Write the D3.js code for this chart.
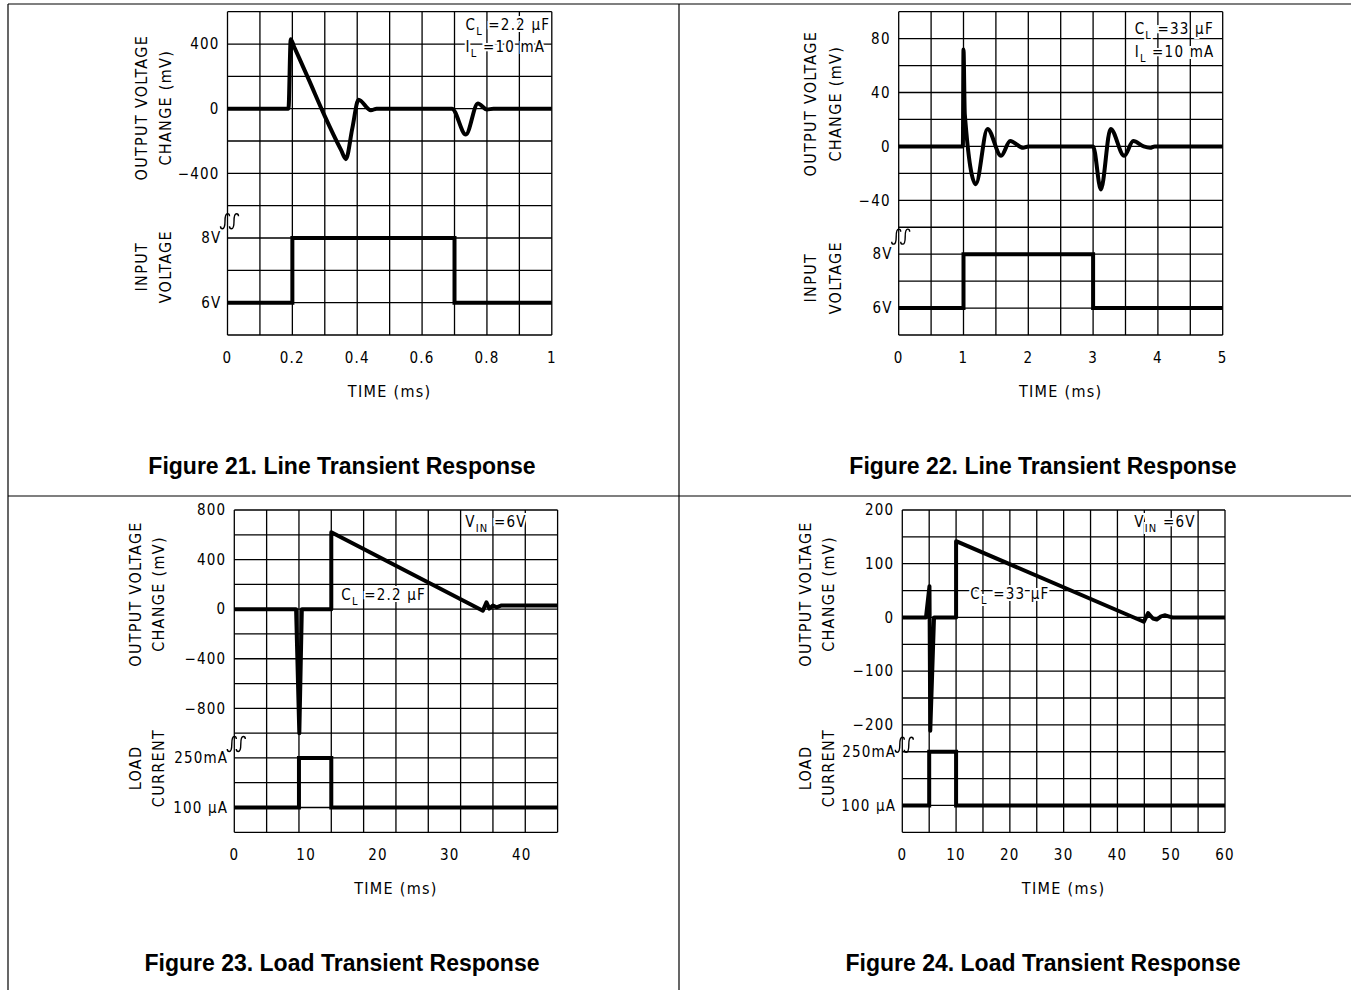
<!DOCTYPE html>
<html lang="en">
<head>
<meta charset="utf-8">
<title>line and load transient response</title>
<script src="https://d3js.org/d3.v7.min.js"></script>
<style>
body{margin:0;background:#fff;}
.lbl{font-family:"Liberation Sans Narrow","DejaVu Sans Condensed",sans-serif;font-size:15px;fill:#000;letter-spacing:1.2px;}
.ttl{font-family:"Liberation Sans Narrow","DejaVu Sans Condensed",sans-serif;font-size:16px;fill:#000;letter-spacing:1.3px;}
.cap{font-family:"Liberation Sans",Arial,sans-serif;font-weight:bold;font-size:23px;fill:#000;}
</style>
</head>
<body>
<div id="chart"></div>
<script>
// values

// Figure 21: line transient, CL = 2.2uF
var f21Time   = [0, 0.188, 0.195, 0.205, 0.25, 0.30, 0.35, 0.365, 0.385, 0.404, 0.442, 0.46, 0.692, 0.735, 0.772, 0.80, 0.82, 1]
var f21Vout   = [0, 0, 430, 385, 183, -46, -255, -312, -120, 55, -10, 0, 0, -160, 32, -5, 0, 0]
var f21InTime = [0, 0.2, 0.2, 0.7, 0.7, 1]
var f21InVolt = [6, 6, 8, 8, 6, 6]
var f21XTicks = [0, 0.2, 0.4, 0.6, 0.8, 1]
var f21VTicks = [400, 0, -400]
var f21InTicks = [8, 6]
var f21InLabels = ["8V", "6V"]

// Figure 22: line transient, CL = 33uF
var f22Time   = [0, 0.99, 1.0, 1.02, 1.19, 1.37, 1.58, 1.72, 1.92, 2.0, 3.0, 3.12, 3.27, 3.48, 3.62, 3.78, 3.88, 3.95, 5]
var f22Vout   = [0, 0, 72, 24, -28, 13, -7, 4, -1, 0, 0, -32, 13, -7, 4, 0, -1, 0, 0]
var f22InTime = [0, 1, 1, 3, 3, 5]
var f22InVolt = [6, 6, 8, 8, 6, 6]
var f22XTicks = [0, 1, 2, 3, 4, 5]
var f22VTicks = [80, 40, 0, -40]
var f22InTicks = [8, 6]
var f22InLabels = ["8V", "6V"]

// Figure 23: load transient, CL = 2.2uF (load: 0 = 100uA, 1 = 250mA)
var f23Time     = [0, 8.6, 9.05, 9.4, 13.5, 13.5, 34.6, 35.1, 35.5, 36.0, 36.5, 37.2, 45]
var f23Vout     = [0, 0, -1000, 0, 0, 620, -12, 55, 5, 30, 15, 30, 30]
var f23LoadTime = [0, 9, 9, 13.5, 13.5, 45]
var f23Load     = [0, 0, 1, 1, 0, 0]
var f23XTicks = [0, 10, 20, 30, 40]
var f23VTicks = [800, 400, 0, -400, -800]
var f23LoadTicks = [1, 0]
var f23LoadLabels = ["250mA", "100 \u00b5A"]

// Figure 24: load transient, CL = 33uF
var f24Time     = [0, 4.4, 5.05, 5.2, 5.9, 10, 10, 44.9, 45.7, 46.6, 47.3, 48.1, 48.9, 49.8, 50.3, 60]
var f24Vout     = [0, 0, 58, -211, 0, 0, 142, -8, 8, -2, -4, 2, 4, 1, 0, 0]
var f24LoadTime = [0, 5, 5, 10, 10, 60]
var f24Load     = [0, 0, 1, 1, 0, 0]
var f24XTicks = [0, 10, 20, 30, 40, 50, 60]
var f24VTicks = [200, 100, 0, -100, -200]
var f24LoadTicks = [1, 0]
var f24LoadLabels = ["250mA", "100 \u00b5A"]

var W = 1351, H = 990
var svg = d3.select("#chart").append("svg").attr("width", W).attr("height", H)

// page frame lines
var frame = [[8, 4, W, 4], [8, 4, 8, H], [679, 4, 679, H], [8, 496, W, 496]]
svg.selectAll("line.frame").data(frame).enter().append("line")
    .attr("x1", function(d){ return d[0] }).attr("y1", function(d){ return d[1] })
    .attr("x2", function(d){ return d[2] }).attr("y2", function(d){ return d[3] })
    .attr("stroke", "#000").attr("stroke-width", 1.2)

var panels = [
    {left:227.5, top:11.7, w:324.3, h:323.3, cols:10, rows:10, xMax:1,
     time:f21Time, vout:f21Vout, vCurve:d3.curveMonotoneX, vDomain:[600, -600], vRows:6, vTicks:f21VTicks,
     lTime:f21InTime, lVal:f21InVolt, lDomain:[9, 5], lRows:[6, 10], lTicks:f21InTicks, lLabels:f21InLabels,
     xTicks:f21XTicks, breakRow:6.48,
     titles:[["OUTPUT VOLTAGE", "CHANGE (mV)"], ["INPUT", "VOLTAGE"]], titleY:[96, 255], titleX:[-86.5, -62.5],
     notes:[{dx:238, dy:18, parts:[["C",0],["L",1],[" =2.2 \u00b5F",0]]}, {dx:238, dy:40, parts:[["I",0],["L",1],[" =10 mA",0]]}],
     caption:"Figure 21. Line Transient Response", capX:342, capY:474},
    {left:898.7, top:11.7, w:324, h:323.3, cols:10, rows:12, xMax:5,
     time:f22Time, vout:f22Vout, vCurve:d3.curveMonotoneX, vDomain:[100, -60], vRows:8, vTicks:f22VTicks,
     lTime:f22InTime, lVal:f22InVolt, lDomain:[9, 5], lRows:[8, 12], lTicks:f22InTicks, lLabels:f22InLabels,
     xTicks:f22XTicks, breakRow:8.35,
     titles:[["OUTPUT VOLTAGE", "CHANGE (mV)"], ["INPUT", "VOLTAGE"]], titleY:[92, 266], titleX:[-88, -63.7],
     notes:[{dx:236, dy:22, parts:[["C",0],["L",1],[" =33 \u00b5F",0]]}, {dx:236, dy:45, parts:[["I",0],["L",1],[" =10 mA",0]]}],
     caption:"Figure 22. Line Transient Response", capX:1043, capY:474},
    {left:234.3, top:510, w:323.3, h:322.3, cols:10, rows:13, xMax:45,
     time:f23Time, vout:f23Vout, vCurve:d3.curveLinear, vDomain:[800, -1000], vRows:9, vTicks:f23VTicks,
     lTime:f23LoadTime, lVal:f23Load, lDomain:[1, 0], lRows:[10, 12], lTicks:f23LoadTicks, lLabels:f23LoadLabels,
     xTicks:f23XTicks, breakRow:9.44,
     titles:[["OUTPUT VOLTAGE", "CHANGE (mV)"], ["LOAD", "CURRENT"]], titleY:[84, 258], titleX:[-99, -76],
     notes:[{dx:231, dy:17, parts:[["V",0],["IN",1],[" =6V",0]]}, {dx:107, dy:90, parts:[["C",0],["L",1],[" =2.2 \u00b5F",0]]}],
     caption:"Figure 23. Load Transient Response", capX:342, capY:971},
    {left:902.3, top:510, w:322.7, h:322.3, cols:12, rows:12, xMax:60,
     time:f24Time, vout:f24Vout, vCurve:d3.curveLinear, vDomain:[200, -200], vRows:8, vTicks:f24VTicks,
     lTime:f24LoadTime, lVal:f24Load, lDomain:[1, 0], lRows:[9, 11], lTicks:f24LoadTicks, lLabels:f24LoadLabels,
     xTicks:f24XTicks, breakRow:8.74,
     titles:[["OUTPUT VOLTAGE", "CHANGE (mV)"], ["LOAD", "CURRENT"]], titleY:[84, 258], titleX:[-97, -74],
     notes:[{dx:232, dy:17, parts:[["V",0],["IN",1],[" =6V",0]]}, {dx:68, dy:89, parts:[["C",0],["L",1],[" =33 \u00b5F",0]]}],
     caption:"Figure 24. Load Transient Response", capX:1043, capY:971}
]

panels.forEach(function(p){
    var g = svg.append("g").attr("transform", "translate(" + p.left + "," + p.top + ")")
    var cellH = p.h / p.rows
    var x = d3.scaleLinear().domain([0, p.xMax]).range([0, p.w])
    var yV = d3.scaleLinear().domain(p.vDomain).range([0, p.vRows * cellH])
    var yL = d3.scaleLinear().domain(p.lDomain).range([p.lRows[0] * cellH, p.lRows[1] * cellH])

    // grid
    g.selectAll("line.vg").data(d3.range(p.cols + 1)).enter().append("line")
        .attr("x1", function(i){ return i * p.w / p.cols }).attr("x2", function(i){ return i * p.w / p.cols })
        .attr("y1", 0).attr("y2", p.h)
        .attr("stroke", "#000").attr("stroke-width", 1.3)
    g.selectAll("line.hg").data(d3.range(p.rows + 1)).enter().append("line")
        .attr("y1", function(i){ return i * cellH }).attr("y2", function(i){ return i * cellH })
        .attr("x1", 0).attr("x2", p.w)
        .attr("stroke", "#000").attr("stroke-width", 1.3)

    // annotations (white halo breaks the grid like the original)
    p.notes.forEach(function(n){
        var t = g.append("text").attr("class", "lbl").attr("x", n.dx).attr("y", n.dy)
            .attr("stroke", "#fff").attr("stroke-width", 4).attr("paint-order", "stroke")
        var shift = 0
        n.parts.forEach(function(pt){
            var s = t.append("tspan").text(pt[0])
            if(pt[1] === 1){
                s.attr("dy", 5 - shift).attr("font-size", "11px"); shift = 5
            } else {
                s.attr("dy", -shift); shift = 0
            }
        })
    })

    // traces
    var lineV = d3.line().x(function(d){ return x(d[0]) }).y(function(d){ return yV(d[1]) }).curve(p.vCurve)
    g.append("path").datum(d3.zip(p.time, p.vout)).attr("d", lineV)
        .attr("fill", "none").attr("stroke", "#000").attr("stroke-width", 4).attr("stroke-linejoin", "round")
    var lineL = d3.line().x(function(d){ return x(d[0]) }).y(function(d){ return yL(d[1]) })
    g.append("path").datum(d3.zip(p.lTime, p.lVal)).attr("d", lineL)
        .attr("fill", "none").attr("stroke", "#000").attr("stroke-width", 4).attr("stroke-linejoin", "miter")

    // y tick labels
    g.selectAll("text.vt").data(p.vTicks).enter().append("text").attr("class", "lbl")
        .attr("x", -8).attr("y", function(d){ return yV(d) }).attr("dy", "0.35em")
        .attr("text-anchor", "end").text(function(d){ return d3.format("d")(d) })
    g.selectAll("text.lt").data(p.lTicks).enter().append("text").attr("class", "lbl")
        .attr("x", -6).attr("y", function(d){ return yL(d) }).attr("dy", "0.35em")
        .attr("text-anchor", "end").text(function(d, i){ return p.lLabels[i] })

    // x tick labels and title
    g.selectAll("text.xt").data(p.xTicks).enter().append("text").attr("class", "lbl")
        .attr("x", function(d){ return x(d) }).attr("y", p.h + 28)
        .attr("text-anchor", "middle").text(function(d){ return d })
    g.append("text").attr("class", "ttl").attr("x", p.w / 2).attr("y", p.h + 62)
        .attr("text-anchor", "middle").text("TIME (ms)")

    // y titles, two lines each
    p.titles.forEach(function(lines, k){
        lines.forEach(function(s, j){
            g.append("text").attr("class", "ttl")
                .attr("transform", "translate(" + p.titleX[j] + "," + p.titleY[k] + ") rotate(-90)")
                .attr("text-anchor", "middle").attr("dy", "0.35em").text(s)
        })
    })

    // axis break mark
    var by = p.breakRow * cellH
    ;[-7, 2].forEach(function(ox){
        g.append("path")
            .attr("d", "M" + ox + "," + (by + 5) + " q0,2.5 2,2.5 q2.5,0 2.5,-7.5 q0,-7.5 2.5,-7.5 q2,0 2,2.5")
            .attr("fill", "none").attr("stroke", "#000").attr("stroke-width", 1.4)
    })

    svg.append("text").attr("class", "cap").attr("x", p.capX).attr("y", p.capY)
        .attr("text-anchor", "middle").text(p.caption)
})
</script>
</body>
</html>
